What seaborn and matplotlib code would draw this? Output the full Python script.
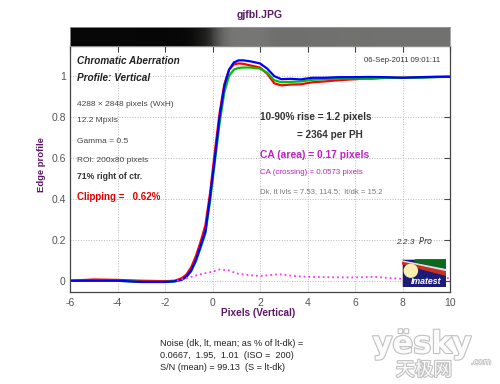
import numpy as np
import matplotlib
matplotlib.use("Agg")
import matplotlib.pyplot as plt
import matplotlib.patches as mpatches
import matplotlib.patheffects as pe
import seaborn as sns
import pandas as pd

# edge profile samples (pixels, normalized level)
x_pts = [-6, -5, -4, -3, -2, -1.6, -1.3, -1.1, -0.9, -0.7, -0.5, -0.3, -0.1, 0.1, 0.3,
         0.5, 0.7, 0.9, 1.1, 1.3, 1.6, 2.0, 2.3, 2.6, 2.9, 3.3, 3.7, 4.2, 4.7, 5.3,
         6.0, 6.6, 7.3, 8.0, 8.7, 9.4, 10]
red = [0.0, 0.006, 0.004, 0.0, -0.002, 0.0, 0.012, 0.03, 0.065, 0.12, 0.19, 0.27, 0.43, 0.63, 0.82,
       0.96, 1.03, 1.055, 1.06, 1.058, 1.05, 1.04, 1.01, 0.963, 0.953, 0.957, 0.958, 0.968, 0.972, 0.978,
       0.983, 0.987, 0.99, 0.99, 0.992, 0.994, 0.995]
green = [0.0, 0.0, 0.0, -0.006, -0.006, -0.003, 0.004, 0.018, 0.045, 0.095, 0.16, 0.23, 0.39, 0.58, 0.77,
         0.92, 1.0, 1.03, 1.038, 1.04, 1.04, 1.035, 1.015, 0.978, 0.968, 0.97, 0.972, 0.98, 0.983, 0.986,
         0.987, 0.984, 0.99, 0.99, 0.99, 0.993, 0.995]
blue = [0.0, 0.0, 0.0, -0.006, -0.006, -0.003, 0.005, 0.02, 0.05, 0.10, 0.17, 0.24, 0.41, 0.60, 0.80,
        0.95, 1.03, 1.065, 1.075, 1.075, 1.07, 1.06, 1.035, 0.998, 0.983, 0.985, 0.982, 0.99, 0.99, 0.993,
        0.993, 0.994, 0.993, 0.99, 0.993, 0.995, 0.995]

# CA difference (dotted magenta)
ca_x = [-1.5, -1.0, -0.5, 0.0, 0.3, 0.7, 1.0, 1.5, 2.0, 2.8, 3.5, 4.0, 5.0, 6.0, 6.8, 7.5, 8.0, 9.0, 9.5, 10]
ca_y = [0.0, 0.016, 0.032, 0.044, 0.055, 0.05, 0.036, 0.028, 0.023, 0.032, 0.022, 0.019, 0.017, 0.016,
        0.019, 0.013, 0.009, 0.012, 0.016, 0.012]

dk_level, lt_level = 7.53, 114.5
x_ticks = [-6, -4, -2, 0, 2, 4, 6, 8, 10]
y_ticks = [0, 0.2, 0.4, 0.6, 0.8, 1]
y_tick_labels = ["0", "0.2", "0.4", "0.6", "0.8", "1"]

sns.set_style("white")
plt.rcParams['font.family'] = ['Liberation Sans', 'DejaVu Sans']
plt.rcParams['axes.unicode_minus'] = False

W, H = 500, 384
fig = plt.figure(figsize=(5, 3.84), dpi=100)


def fx(px):
    return px / W


def fy(py):
    return 1 - py / H


purple = '#5c1767'
ax = fig.add_axes([fx(70), fy(292), fx(450) - fx(70), fy(46) - fy(292)])

df = pd.DataFrame({'x': x_pts * 3, 'y': red + green + blue,
                   'ch': ['R'] * len(x_pts) + ['G'] * len(x_pts) + ['B'] * len(x_pts)})
sns.lineplot(data=df, x='x', y='y', hue='ch', palette={'R': '#ff0000', 'G': '#00c000', 'B': '#0000ff'},
             linewidth=1.6, legend=False, ax=ax, estimator=None, sort=False)
sns.lineplot(x=ca_x, y=ca_y, color='#ff33ff', linestyle=':', linewidth=1.3, ax=ax)

ax.set_xlim(-6, 10)
ax.set_ylim(-0.055, 1.145)
ax.set_xticks(x_ticks)
ax.set_yticks(y_ticks)
ax.set_yticklabels(y_tick_labels)
ax.grid(True, linestyle=':', color='#b8b8b8', linewidth=0.7)
ax.tick_params(direction='in', length=4, width=0.8, color='#444444', labelsize=7.5,
               labelcolor='#555555', top=True, right=True, pad=3)
ax.tick_params(axis='x', pad=4)
for s in ax.spines.values():
    s.set_color('#444444')
    s.set_linewidth(0.9)
ax.set_xlabel('')
ax.set_ylabel('')

# edge image strip (grey levels between dark and light levels)
strip = fig.add_axes([fx(70), fy(46), fx(450) - fx(70), fy(27) - fy(46)])
xs = np.linspace(-6, 10, 400)
levels = (dk_level + (lt_level - dk_level) * np.interp(xs, x_pts, green)) / 255.0
rgb = np.stack([levels, levels, levels * 0.98], axis=-1)[None, :, :]
strip.imshow(np.clip(rgb, 0, 1), aspect='auto', extent=[-6, 10, 0, 1], interpolation='nearest')
strip.set_xlim(-6, 10)
strip.set_xticks([])
strip.set_yticks([])
for s in strip.spines.values():
    s.set_color('#999999')
    s.set_linewidth(0.6)

# titles and labels
fig.text(fx(260), fy(15), 'gjfbl.JPG', ha='center', va='center', fontsize=7.5,
         fontweight='bold', color=purple)
fig.text(fx(42), fy(165), 'Edge profile', ha='center', va='center', rotation=90,
         fontsize=6.8, fontweight='bold', color=purple)
fig.text(fx(258), fy(313), 'Pixels (Vertical)', ha='center', va='center', fontsize=7.2,
         fontweight='bold', color=purple)

# left text block
fig.text(fx(77), fy(61), 'Chromatic Aberration', fontsize=7.2, fontweight='bold',
         style='italic', color='#222222', va='center')
fig.text(fx(77), fy(78), 'Profile: Vertical', fontsize=7.2, fontweight='bold',
         style='italic', color='#222222', va='center')
info = [('4288 \u00d7 2848 pixels (WxH)', 104), ('12.2 Mpxls', 121), ('Gamma = 0.5', 141.5),
        ('ROI: 200x80 pixels', 160.5)]
for t, py in info:
    fig.text(fx(77), fy(py), t, fontsize=6, color='#444444', va='center')
fig.text(fx(77), fy(176.5), '71% right of ctr.', fontsize=6.2, fontweight='bold',
         color='#333333', va='center')
fig.text(fx(77), fy(196.5), 'Clipping =   0.62%', fontsize=7, fontweight='bold',
         color='#e00000', va='center')

# right text block
fig.text(fx(440), fy(60.5), '06-Sep-2011 09:01:11', fontsize=5.6, color='#333333',
         ha='right', va='center')
fig.text(fx(260), fy(117), '10-90% rise = 1.2 pixels', fontsize=7.2, fontweight='bold',
         color='#333333', va='center')
fig.text(fx(297), fy(135), '= 2364 per PH', fontsize=7.2, fontweight='bold',
         color='#333333', va='center')
fig.text(fx(260), fy(155), 'CA (area) = 0.17 pixels', fontsize=7.4, fontweight='bold',
         color='#c020c0', va='center')
fig.text(fx(260), fy(172.5), 'CA (crossing) = 0.0573 pixels', fontsize=5.7,
         color='#c020c0', va='center')
fig.text(fx(260), fy(191.5), 'Dk, lt lvls = 7.53, 114.5;  lt/dk = 15.2', fontsize=5.6,
         color='#777777', va='center')
fig.text(fx(433), fy(240), '2.2.3  $\\it{Pro}$', fontsize=5.8, color='#333333',
         ha='right', va='center', style='italic')

# Imatest logo
logo = fig.add_axes([fx(402), fy(287), fx(446) - fx(402), fy(259) - fy(287)])
logo.set_xlim(0, 1)
logo.set_ylim(0, 1)
logo.axis('off')
logo.add_patch(mpatches.Rectangle((0, 0), 1, 1, facecolor='#1c1c78', edgecolor='#cccccc', lw=0.6))
logo.add_patch(mpatches.Polygon([(0.3, 0.97), (1, 0.97), (1, 0.68), (0.3, 0.9)], color='#0a6a1a'))
logo.add_patch(mpatches.Polygon([(0.0, 0.93), (1, 0.62), (1, 0.56), (0.0, 0.89)], color='#dddddd'))
logo.add_patch(mpatches.Polygon([(0.0, 0.88), (1, 0.54), (1, 0.42), (0.0, 0.83)], color='#c83020'))
logo.add_patch(mpatches.Ellipse((0.2, 0.58), 0.3, 0.46, color='#f8f0b0'))
logo.text(0.55, 0.2, 'Imatest', color='white', fontsize=6.3, fontweight='bold',
          style='italic', ha='center', va='center')

# bottom noise text
noise = ['Noise (dk, lt, mean; as % of lt-dk) =', '0.0667,  1.95,  1.01  (ISO =  200)',
         'S/N (mean) = 99.13  (S = lt-dk)']
for t, py in zip(noise, [343, 355, 367]):
    fig.text(fx(160), fy(py), t, fontsize=6.6, color='#222222', va='center')

# watermark
wm = [pe.withStroke(linewidth=1.6, foreground='#c0c0c0')]
fig.text(fx(422), fy(353), 'y\u00ebsky', fontsize=22, fontweight='bold', color='#fbfbfb',
         ha='center', va='baseline', family='DejaVu Sans', path_effects=wm)
fig.text(fx(481), fy(362), '.com', fontsize=6, color='#fbfbfb', ha='center', va='center',
         family='DejaVu Sans', path_effects=[pe.withStroke(linewidth=1.0, foreground='#c0c0c0')])
fig.text(fx(424), fy(370), '\u5929\u6781\u7f51', fontsize=13.5, color='#fbfbfb',
         ha='center', va='center', family=['Noto Sans CJK SC', 'DejaVu Sans'], path_effects=wm)

fig.savefig('out.png', dpi=100)
